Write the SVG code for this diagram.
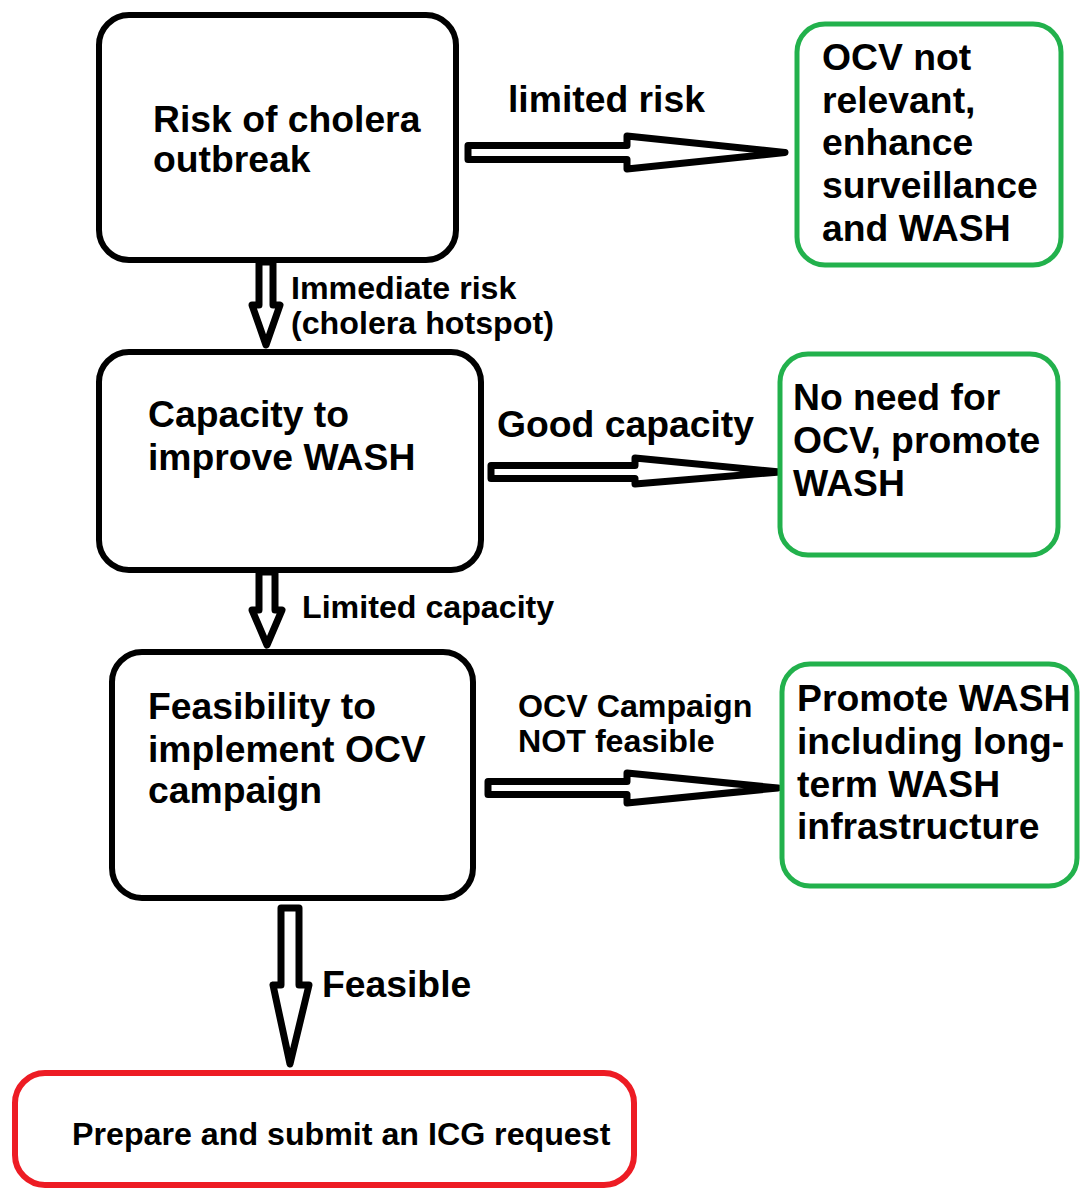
<svg xmlns="http://www.w3.org/2000/svg" width="1081" height="1188" viewBox="0 0 1081 1188">
<style>
.dec{fill:#fff;stroke:#000;stroke-width:6}
.ok{fill:#fff;stroke:#22b14c;stroke-width:5}
.end{fill:#fff;stroke:#ed1c24;stroke-width:6}
.arr{fill:#fff;stroke:#000;stroke-width:7;stroke-linejoin:round}
text{font-family:"Liberation Sans",Arial,sans-serif;font-weight:bold;fill:#000}
.b{font-size:37.3px}
.s{font-size:32.2px}
</style>
<rect width="1081" height="1188" fill="#fff"/>
<g id="connectors">
<polygon class="arr" points="468,145.5 627,145.5 627,136 785,152.5 627,169 627,159.5 468,159.5"/>
<polygon class="arr" points="491,465.5 635,465.5 635,458 780,472 635,484 635,478.5 491,478.5"/>
<polygon class="arr" points="488,781.5 627,781.5 627,773 778,788 627,803 627,794.5 488,794.5"/>
<polygon class="arr" points="259,262 259,305 252,305 266,345 280,305 273,305 273,262"/>
<polygon class="arr" points="259,572 259,610 252,610 267,645 282,610 275,610 275,572"/>
<polygon class="arr" points="281,908 299,908 299,985 309,985 290,1064 273,985 281,985"/>
<text class="b" x="508" y="112">limited risk</text>
<text class="s" x="291" y="299">Immediate risk</text>
<text class="s" x="291" y="334">(cholera hotspot)</text>
<text class="b" x="497" y="437">Good capacity</text>
<text class="s" x="302" y="618">Limited capacity</text>
<text class="s" x="518" y="717">OCV Campaign</text>
<text class="s" x="518" y="752">NOT feasible</text>
<text class="b" x="322" y="997">Feasible</text>
</g>
<g id="risk">
<rect class="dec" x="99" y="15" width="357" height="245" rx="30"/>
<text class="b" x="153" y="132">Risk of cholera</text>
<text class="b" x="153" y="172">outbreak</text>
</g>
<g id="capacity">
<rect class="dec" x="99" y="352" width="382" height="218" rx="30"/>
<text class="b" x="148" y="427">Capacity to</text>
<text class="b" x="148" y="470">improve WASH</text>
</g>
<g id="feasibility">
<rect class="dec" x="112" y="652" width="361" height="246" rx="30"/>
<text class="b" x="148" y="719">Feasibility to</text>
<text class="b" x="148" y="762">implement OCV</text>
<text class="b" x="148" y="803">campaign</text>
</g>
<g id="not-relevant">
<rect class="ok" x="797" y="24" width="264" height="241" rx="28"/>
<text class="b" x="822" y="70">OCV not</text>
<text class="b" x="822" y="113">relevant,</text>
<text class="b" x="822" y="155">enhance</text>
<text class="b" x="822" y="198">surveillance</text>
<text class="b" x="822" y="241">and WASH</text>
</g>
<g id="no-need">
<rect class="ok" x="780" y="354" width="278" height="201" rx="28"/>
<text class="b" x="793" y="410">No need for</text>
<text class="b" x="793" y="453">OCV, promote</text>
<text class="b" x="793" y="496">WASH</text>
</g>
<g id="promote">
<rect class="ok" x="782" y="664" width="295" height="222" rx="28"/>
<text class="b" x="797" y="711">Promote WASH</text>
<text class="b" x="797" y="754">including long-</text>
<text class="b" x="797" y="797">term WASH</text>
<text class="b" x="797" y="839">infrastructure</text>
</g>
<g id="icg">
<rect class="end" x="15" y="1073" width="619" height="112" rx="30"/>
<text class="s" x="72" y="1145">Prepare and submit an ICG request</text>
</g>
</svg>
